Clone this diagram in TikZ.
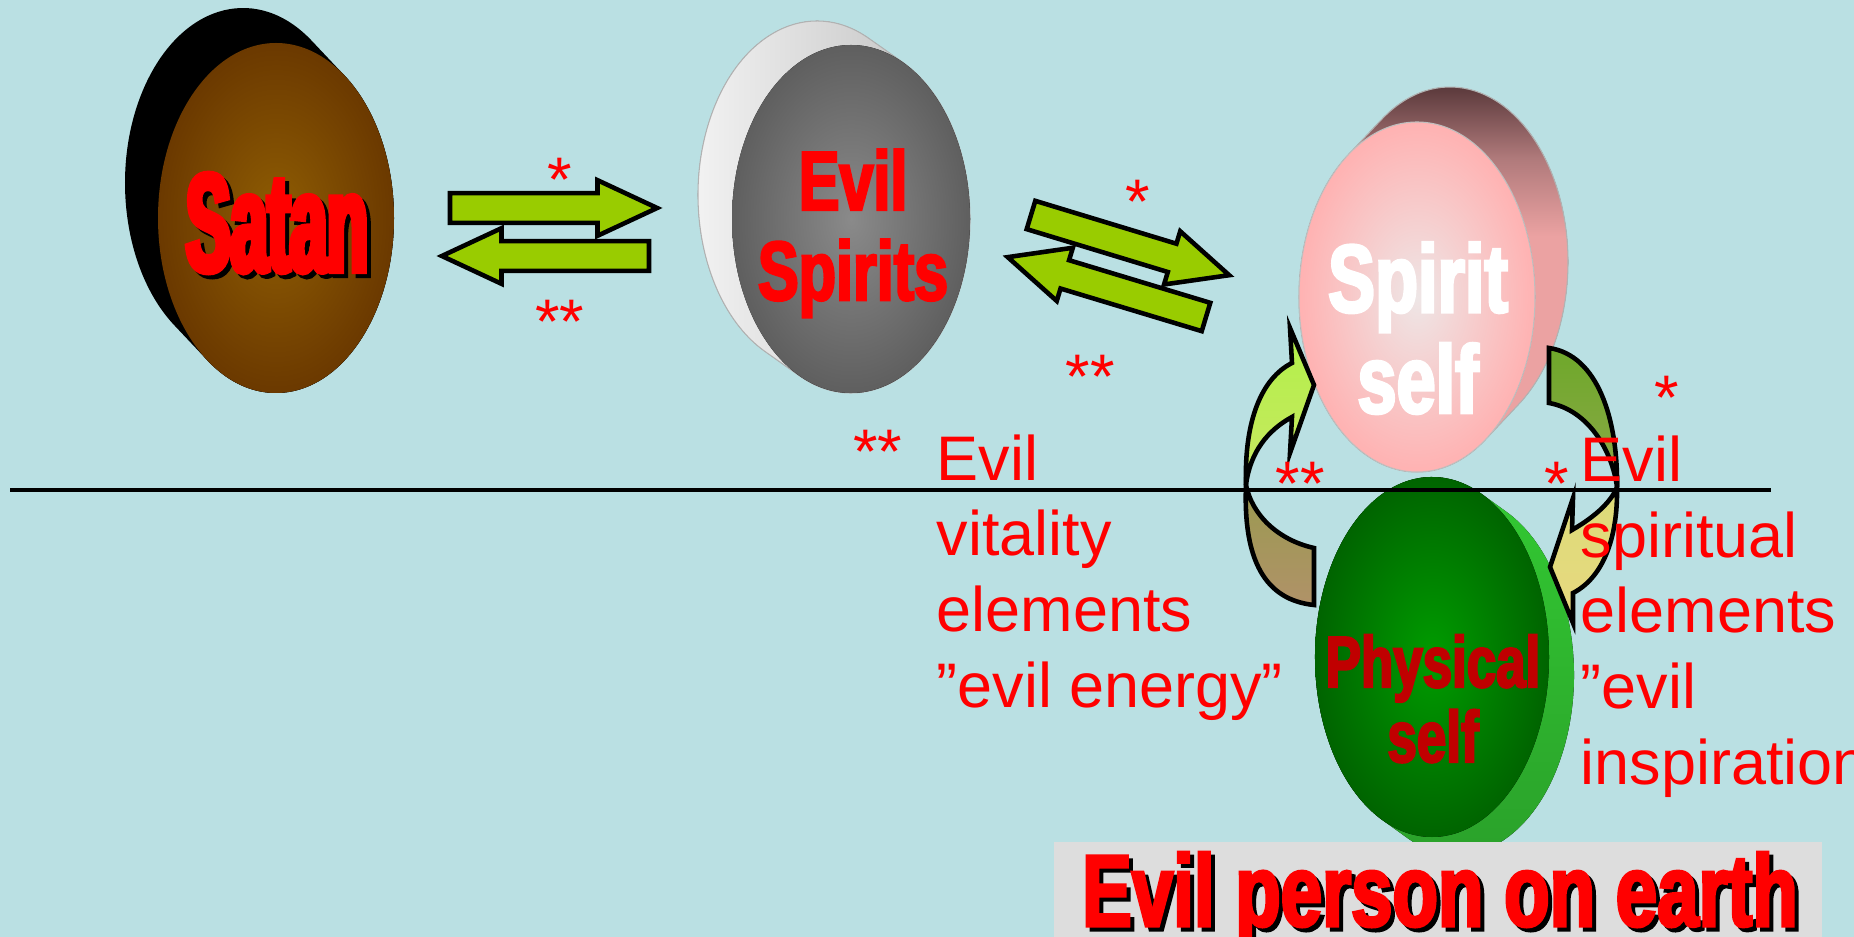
\documentclass[tikz,border=0pt]{standalone}
\usepackage{fontspec}
\usetikzlibrary{calc,shapes.arrows}
\newfontfamily\arialfont{Liberation Sans}
\newfontfamily\satanfont[FakeStretch=0.48,FakeBold=4.5]{Liberation Sans Bold}
\newfontfamily\impactfont[FakeStretch=0.73,FakeBold=3]{Liberation Sans Bold}

\definecolor{bgblue}{HTML}{BAE0E3}
\definecolor{arrowgreen}{HTML}{99CC00}
\definecolor{labelred}{HTML}{FF0000}
\definecolor{physred}{HTML}{C00000}
\definecolor{bannergray}{HTML}{DDDDDD}
\definecolor{satancore}{HTML}{8F5D03}
\definecolor{satanrim}{HTML}{6B3900}
\definecolor{spiritcore}{HTML}{8A8A8A}
\definecolor{spiritrim}{HTML}{5F5F5F}
\definecolor{selfcore}{HTML}{EEE6E6}
\definecolor{selfrim}{HTML}{FFB2B2}
\definecolor{selfsidetop}{HTML}{5E3C3E}
\definecolor{selfsidemid}{HTML}{B07A7B}
\definecolor{selfsidelow}{HTML}{EBA2A2}
\definecolor{physcore}{HTML}{009C00}
\definecolor{physrim}{HTML}{006400}
\definecolor{physside}{HTML}{33CC33}
\definecolor{physsidelow}{HTML}{2A9F2A}
\definecolor{upleft}{HTML}{B2F04A}
\definecolor{upleftlow}{HTML}{C8E860}
\definecolor{tanhigh}{HTML}{9A9A50}
\definecolor{tanlow}{HTML}{B09268}
\definecolor{downright}{HTML}{6EA82A}
\definecolor{downrightlow}{HTML}{8CA848}
\definecolor{yellowhigh}{HTML}{DCDC78}
\definecolor{yellowlow}{HTML}{E8D880}

\pgfdeclareverticalshading{selfside}{100bp}{color(0bp)=(selfsidelow); color(25bp)=(selfsidelow);
  color(55bp)=(selfsidelow); color(64bp)=(selfsidemid); color(72bp)=(selfsidetop); color(100bp)=(selfsidetop)}

\tikzset{
  blockarr/.style={single arrow, draw=black, line width=1.3pt, fill=arrowgreen,
    minimum height=2.07cm, minimum width=0.51cm, single arrow head extend=0.13cm,
    single arrow tip angle=50, inner sep=0.125cm, outer sep=0pt, anchor=tail},
  curvearr/.style={draw=black, line width=1.3pt, line join=miter},
  star/.style={text=labelred, font=\arialfont\fontsize{17.9}{21.5}\selectfont,
    inner sep=0pt, anchor=base},
  note/.style={text=labelred, font=\arialfont\fontsize{17.9}{21.5}\selectfont,
    align=left, inner sep=0pt, anchor=base west},
  disklabel/.style={inner sep=0pt, anchor=base, align=center},
}

\begin{document}
\begin{tikzpicture}[x=0.01cm, y=-0.01cm]
\useasboundingbox (0,0) rectangle (1854,937);
\clip (0,0) rectangle (1854,937);
\fill[bgblue] (0,0) rectangle (1854,937);

% Satan disk
\coordinate (satan) at (276,218);
\coordinate (satan-back) at (243,183);
\fill[black] ($(satan-back)+(-54.4:118 and 175)$)
  arc[start angle=-54.4, end angle=-234.4, x radius=118, y radius=175]
  -- ($(satan)+(125.6:118 and 175)$)
  arc[start angle=125.6, end angle=-54.4, x radius=118, y radius=175] -- cycle;
\fill[inner color=satancore, outer color=satanrim] (satan) ellipse [x radius=118, y radius=175];

% Evil Spirits disk
\coordinate (spirits) at (851,219);
\coordinate (spirits-back) at (817,195);
\filldraw[draw=gray!60, line width=0.3pt, left color=gray!8, right color=gray!55] ($(spirits-back)+(-64.2:119 and 174)$)
  arc[start angle=-64.2, end angle=-244.2, x radius=119, y radius=174]
  -- ($(spirits)+(115.8:119 and 174)$)
  arc[start angle=115.8, end angle=-64.2, x radius=119, y radius=174] -- cycle;
\fill[inner color=spiritcore, outer color=spiritrim] (spirits) ellipse [x radius=119, y radius=174];

% Spirit self disk
\coordinate (self) at (1417,297);
\coordinate (self-back) at (1450,262);
\filldraw[draw=gray!60, line width=0.3pt, shading=selfside] ($(self-back)+(54.4:118 and 175)$)
  arc[start angle=54.4, end angle=-125.6, x radius=118, y radius=175]
  -- ($(self)+(234.4:118 and 175)$)
  arc[start angle=234.4, end angle=54.4, x radius=118, y radius=175] -- cycle;
\filldraw[draw=gray!50, line width=0.3pt, inner color=selfcore, outer color=selfrim] (self) ellipse [x radius=118, y radius=175];

% Physical self disk
\coordinate (phys) at (1432,657);
\coordinate (phys-back) at (1457,675);
\fill[top color=physside, bottom color=physsidelow] ($(phys-back)+(-64.9:117 and 180)$)
  arc[start angle=-64.9, end angle=115.1, x radius=117, y radius=180]
  -- ($(phys)+(115.1:117 and 180)$)
  arc[start angle=115.1, end angle=295.1, x radius=117, y radius=180] -- cycle;
\fill[inner color=physcore, outer color=physrim] (phys) ellipse [x radius=117, y radius=180];

% block arrows
\node[blockarr] (sat-to-spi) at (450,208) {};
\node[blockarr, rotate=180] (spi-to-sat) at (649,256) {};
\node[blockarr, rotate=-16.9] (spi-to-self) at (1031,215) {};
\node[blockarr, rotate=163.2] (self-to-spi) at (1206,317) {};

% curved arrow, physical to spirit
\filldraw[curvearr, top color=tanhigh, bottom color=tanlow]
  (1314,548) -- (1314,605) .. controls (1265,600) and (1243,560) .. (1246,485)
  .. controls (1252,515) and (1278,540) .. (1314,548) -- cycle;
\filldraw[curvearr, top color=upleft, bottom color=upleftlow]
  (1246,485) .. controls (1244,420) and (1262,378) .. (1292,363) -- (1290,328) -- (1314,385)
  -- (1290,453) -- (1292,417) .. controls (1268,430) and (1250,452) .. (1246,485) -- cycle;

% curved arrow, spirit to physical
\filldraw[curvearr, top color=downright, bottom color=downrightlow]
  (1549,348) .. controls (1598,355) and (1618,420) .. (1617,487)
  .. controls (1612,450) and (1588,410) .. (1549,403) -- cycle;
\filldraw[curvearr, top color=yellowhigh, bottom color=yellowlow]
  (1617,487) .. controls (1618,540) and (1602,578) .. (1573,593) -- (1573,623) -- (1550,567)
  -- (1573,498) -- (1572,530) .. controls (1598,515) and (1612,500) .. (1617,487) -- cycle;

% earth line
\coordinate (earth-l) at (10,490);
\coordinate (earth-r) at (1771,490);
\draw[line width=1pt] (earth-l) -- (earth-r);

% disk labels
\node[disklabel, font=\satanfont\fontsize{39.6}{40}\selectfont, text=black] (satan-sh) at (281,275) {Satan};
\node[disklabel, font=\satanfont\fontsize{39.6}{40}\selectfont, text=labelred] (satan-txt) at (277,271) {Satan};
\node[disklabel, font=\impactfont\fontsize{23.8}{25.6}\selectfont, text=labelred] (spirits-txt) at (853,300) {Evil\\Spirits};
\node[disklabel, font=\impactfont\fontsize{27.4}{28.7}\selectfont, text=white] (self-txt) at (1418,413) {Spirit\\self};
\node[disklabel, font=\impactfont\fontsize{20.6}{21.3}\selectfont, text=physred] (phys-txt) at (1433,762) {Physical\\self};

% stars
\node[star] (st1) at (560,202) {*};
\node[star] (st2) at (560,344) {**};
\node[star] (st3) at (1138,224) {*};
\node[star] (st4) at (1090,399) {**};
\node[star] (st5) at (878,474) {**};
\node[star] (st6) at (1300,505) {**};
\node[star] (st7) at (1557,505) {*};
\node[star] (st8) at (1667,420) {*};

% side notes
\node[note] (vitality) at (936,707) {Evil\\vitality\\elements\\”evil energy”};
\node[note] (inspiration) at (1580,784) {Evil\\spiritual\\elements\\”evil\\inspiration};

% banner
\fill[bannergray] (1054,842) rectangle (1822,937);
\node[disklabel, font=\impactfont\fontsize{29}{30}\selectfont, text=black] (banner-sh) at (1444,930) {Evil person on earth};
\node[disklabel, font=\impactfont\fontsize{29}{30}\selectfont, text=labelred] (banner) at (1440,926) {Evil person on earth};
\end{tikzpicture}
\end{document}
